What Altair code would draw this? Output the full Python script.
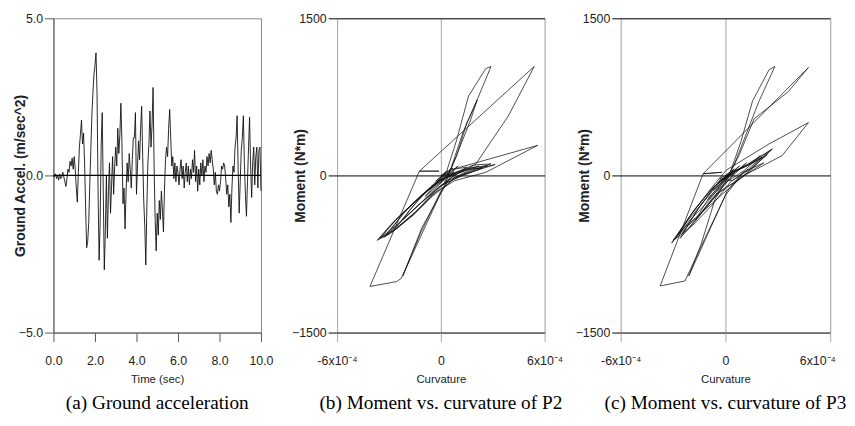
import altair as alt
import pandas as pd

# ---------------- data ----------------
TIME_STEP = 0.05
ACCEL = [
    0.0, -0.05, 0.05, -0.1, 0.0, -0.15, 0.05, -0.1, -0.05, 0.1, -0.05, -0.2, -0.35, -0.1, 0.2, 0.1, 0.45, 0.3, 0.55, 0.2,
    0.6, 0.2, -0.4, -0.85, 0.1, 0.9, 1.3, 1.76, 1.0, 1.35, 0.4, -1.0, -2.3, -2.1, -1.5, -0.3, 0.8, 1.9, 2.6, 3.2,
    3.5, 3.9, 2.6, -0.5, -2.7, -1.5, 1.0, 2.0, -0.5, -3.0, -1.8, 0.0, -2.0, -0.5, 0.4, -1.2, -0.3, 0.6, -0.6, 0.3,
    0.9, 0.3, 1.5, 0.7, 1.3, 2.3, 1.0, -0.9, -0.4, -1.7, -0.5, 0.4, -0.2, 0.7, 0.2, -0.4, 0.5, 1.2, 1.2, 2.0,
    -0.6, 0.3, 1.1, 0.5, 1.5, 2.2, 0.6, -0.8, -1.6, -2.85, -1.0, 0.4, 1.0, 2.05, 0.9, 1.6, 2.8, 0.3, -1.4, -2.4,
    -1.2, -1.9, -0.8, -1.4, -0.5, -1.1, -1.8, -0.4, 0.5, 0.9, 0.6, 1.5, 2.1, 1.2, 0.3, 0.6, -0.1, 0.4, -0.2, 0.3,
    0.1, -0.3, 0.2, 0.5, -0.1, 0.3, -0.4, 0.1, 0.4, -0.2, 0.3, -0.3, 0.2, -0.1, 0.5, 0.1, 0.8, -0.2, 0.3, -0.5,
    0.2, -0.3, 0.4, 0.0, 0.5, -0.2, 0.3, 0.1, 0.6, 0.3, 0.7, 0.4, 0.8, 0.5, 0.2, -0.3, 0.1, -0.5, -0.6, -0.3,
    -0.5, -0.2, 0.3, 0.2, 0.4, 0.3, -0.1, -0.6, -0.3, -1.0, -0.6, -1.5, -0.4, 0.3, 0.1, 0.9, 1.2, 1.9, 0.2, -1.2,
    -0.2, 0.8, 1.2, 1.9, 0.4, -0.6, -1.3, -0.2, 0.9, 1.85, 0.3, -0.7, 0.4, 0.9, -0.3, 0.6, 0.9, -0.4, 0.8, 0.9,
    -0.5,
]
TIME = [round(i * TIME_STEP, 2) for i in range(len(ACCEL))]

# (curvature in 1e-4 units, moment in N*m), in loading order
P2_PATH = [
    (0.0, 0), (0.4, 45), (-0.3, -55), (0.7, 70), (-0.6, -120), (1.0, 90), (-0.9, -200), (0.35, 47),
    (0.9, 330), (1.6, 757), (2.6, 1020), (2.9, 1040), (2.0, 681), (1.3, 420), (0.6, 75), (0.1, -54),
    (-0.9, -220), (-1.9, -380), (-2.9, -520), (-3.68, -620), (-2.9, -470), (-1.8, -300), (-0.7, -130), (0.3, -20),
    (1.5, 50), (2.5, 80), (3.14, 104), (2.3, 60), (1.2, 0), (0.1, -90),
    (-1.2, -310), (-2.5, -500), (-3.5, -600), (-2.6, -420), (-1.5, -250), (-0.4, -90), (0.6, 20),
    (1.8, 75), (2.7, 95), (1.9, 40), (0.7, -40), (-0.5, -200),
    (-1.6, -380), (-2.8, -540), (-3.3, -590), (-2.2, -370), (-1.0, -170), (0.0, -40), (1.1, 40), (2.2, 90),
    (1.4, 30), (0.2, -70),
    (0.9, 180), (1.5, 500), (2.1, 720), (1.7, 520), (1.0, 230), (0.3, -60),
    (-0.5, -345), (-1.4, -666), (-2.29, -983), (-2.57, -1014), (-4.1, -1060), (-1.24, 41), (-0.1, 41), (-1.24, 41),
    (5.4, 1040), (3.9, 567), (2.0, 104), (1.0, 20), (-0.2, -120),
    (-1.5, -360), (-2.8, -540), (-1.8, -330), (-0.6, -110), (0.5, 50),
    (5.6, 287), (2.6, 30), (0.8, -50), (-0.4, -170),
    (-1.4, -340), (-3.0, -560), (-3.6, -610), (-2.4, -390), (-1.2, -200), (-0.2, -60), (0.9, 30), (1.9, 100),
    (2.9, 110), (2.0, 60), (0.8, -20),
    (0.0, -150), (-1.2, -560), (-2.2, -960), (-1.1, -500), (0.1, -140), (0.8, 60), (1.5, 80), (0.5, -30), (-0.3, -140),
    (-1.6, -330), (-3.2, -580), (-2.0, -330), (-0.8, -150), (0.5, -10), (1.6, 60), (2.4, 70), (1.3, 10), (0.0, -100),
    (-1.0, -240), (-2.2, -420), (-1.3, -230), (-0.1, -50), (0.8, 20), (0.0, 0),
]

P3_PATH = [
    (0.0, 0), (0.5, 60), (-0.4, -70), (0.8, 90), (-0.7, -140), (1.2, 120), (-1.0, -230), (0.3, 40),
    (0.9, 330), (1.55, 710), (2.5, 1010), (2.83, 1040), (1.9, 700), (1.2, 400), (0.5, 100), (0.0, -40),
    (-1.0, -250), (-2.0, -420), (-3.08, -646), (-2.2, -440), (-1.1, -220), (-0.2, -40), (0.8, 60), (1.8, 150),
    (2.68, 252), (1.9, 140), (0.98, -16), (-0.3, -150),
    (-1.5, -380), (-2.79, -583), (-1.9, -360), (-0.9, -150), (0.1, 10), (1.2, 90), (2.1, 173), (1.3, 60), (0.3, -60),
    (-0.8, -290), (-1.9, -480), (-2.5, -560), (-1.6, -330), (-0.6, -100), (0.6, 40), (1.6, 120), (2.4, 200),
    (1.5, 70), (0.4, -50),
    (-0.34, -31), (1.2, 100), (2.68, 252), (1.5, 60), (0.5, -80),
    (-1.2, -330), (-2.3, -490), (-3.0, -620), (-2.0, -380), (-0.8, -120), (0.04, 50), (2.49, 300), (4.75, 504),
    (3.25, 190), (2.0, 80), (0.8, -20),
    (0.0, -190), (-1.2, -610), (-2.32, -1008), (-3.74, -1055), (-1.28, 16), (-0.2, 30), (-1.28, 16),
    (4.75, 1030), (3.6, 800), (1.64, 540), (0.8, 200), (0.0, -60),
    (-0.6, -230), (-1.4, -660), (-2.1, -960), (-1.0, -555), (0.1, -150), (1.0, 30), (2.2, 120), (1.0, -10),
    (-0.5, -180), (-1.8, -450), (-2.6, -600), (-1.5, -300), (-0.3, -40), (0.5, 20),
    (-1.1, -300), (-2.2, -520), (-2.9, -610), (-1.8, -330), (-0.7, -110), (0.4, 30), (1.4, 110), (2.0, 190),
    (1.1, 50), (0.0, -70), (-0.9, -250), (-1.7, -420), (-0.9, -200), (0.2, -20), (0.0, 0),
]

ACC_XTICKS = [0, 2, 4, 6, 8, 10]
ACC_YTICKS = [-5, 0, 5]
CURV_TICKS = [-6, 0, 6]
MOM_TICKS = [-1500, 0, 1500]
CAPTIONS = [
    "(a) Ground acceleration",
    "(b) Moment vs. curvature of P2",
    "(c) Moment vs. curvature of P3",
]

# ---------------- styles ----------------
LABEL_FONT = "Liberation Sans"
TITLE_FONT = "Liberation Sans"
CAP_FONT = "Liberation Serif"
TXT = "#222222"
CURV_LABELS = "datum.value == 0 ? '0' : (datum.value > 0 ? '6x10⁻⁴' : '-6x10⁻⁴')"


def caption(text):
    return alt.TitleParams(text=text, orient="bottom", anchor="middle", font=CAP_FONT,
                           fontSize=19.5, fontWeight="normal", color="black", offset=9)


common_x = dict(labelFont=LABEL_FONT, labelFontSize=12.5, labelColor=TXT, labelPadding=13,
                labelFlush=False, labelOverlap=False, tickSize=9,
                titleFont=LABEL_FONT, titleFontSize=11.5, titleFontWeight="normal", titleColor=TXT,
                titleY=48, titleBaseline="middle")
common_y = dict(labelFont=LABEL_FONT, labelFontSize=12.5, labelColor=TXT, labelPadding=2,
                labelFlush=False, labelOverlap=False, tickSize=9,
                titleFont=TITLE_FONT, titleFontSize=14, titleFontWeight="bold", titleColor=TXT,
                titleBaseline="middle")

# ---------------- panel (a) ----------------
df_a = pd.DataFrame({"t": TIME, "acc": ACCEL, "i": list(range(len(ACCEL)))})
x_a = alt.X("t:Q", scale=alt.Scale(domain=[0, 10], nice=False, zero=False),
            axis=alt.Axis(values=ACC_XTICKS, format=".1f", title="Time (sec)", grid=False,
                          domainColor="#555555", tickColor="#555555", **common_x))
y_a = alt.Y("acc:Q", scale=alt.Scale(domain=[-5, 5], nice=False),
            axis=alt.Axis(values=ACC_YTICKS, format=".1f", title="Ground Accel. (m/sec^2)", grid=False,
                          domainColor="#555555", tickColor="#555555", titleX=-33, **common_y))
line_a = alt.Chart(df_a).mark_line(color="#111111", strokeWidth=0.9).encode(
    x=x_a, y=y_a, order=alt.Order("i:Q"))
zero_a = alt.Chart(pd.DataFrame({"acc": [0]})).mark_rule(color="black", strokeWidth=1.2).encode(y="acc:Q")
chart_a = alt.layer(line_a, zero_a).properties(
    width=210, height=318, title=caption(CAPTIONS[0]),
    view=alt.ViewBackground(stroke="#888888", strokeOpacity=1, strokeWidth=1))


# ---------------- panels (b), (c) ----------------
def hysteresis(path, cap, width, last_label_shift):
    df = pd.DataFrame({"curv": [p[0] for p in path], "mom": [p[1] for p in path],
                       "i": list(range(len(path)))})
    x = alt.X("curv:Q", scale=alt.Scale(domain=[-6, 6], nice=False),
              axis=alt.Axis(values=CURV_TICKS, title="Curvature", grid=True, gridColor="#a8a8a8",
                            gridWidth=1, domain=False, tickColor="#a8a8a8", labelExpr=CURV_LABELS,
                            labelOffset={"condition": {"test": "datum.value == 6", "value": last_label_shift},
                                         "value": 0},
                            **common_x))
    y = alt.Y("mom:Q", scale=alt.Scale(domain=[-1500, 1500], nice=False),
              axis=alt.Axis(values=MOM_TICKS, format="d", title="Moment (N*m)", grid=True, gridColor="black",
                            gridWidth=1, domain=False, tickColor="black", titleX=-37, **common_y))
    return alt.Chart(df).mark_line(color="#111111", strokeWidth=0.75).encode(
        x=x, y=y, order=alt.Order("i:Q")
    ).properties(width=width, height=318, title=caption(cap))


chart_b = hysteresis(P2_PATH, CAPTIONS[1], 210, 0)
chart_c = hysteresis(P3_PATH, CAPTIONS[2], 212, -13)

chart = alt.hconcat(chart_a, chart_b, chart_c, spacing=77, bounds="flush").properties(
    padding={"left": 5, "top": 1, "right": 0, "bottom": 0}
).configure_view(strokeOpacity=0).configure(background="white")

chart.save("out.html", embed_options={"renderer": "svg", "actions": False})
